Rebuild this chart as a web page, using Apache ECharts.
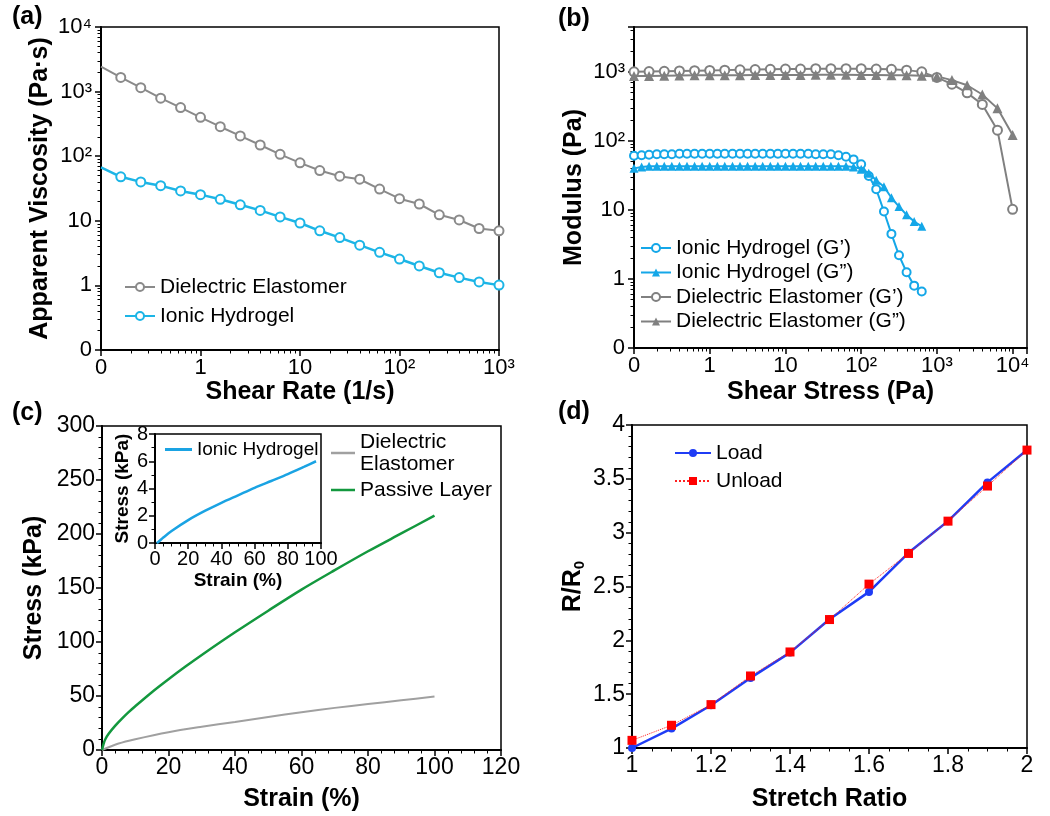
<!DOCTYPE html>
<html>
<head>
<meta charset="utf-8">
<title>Rheology and stretch figure</title>
<script src="https://cdn.jsdelivr.net/npm/echarts@6.0.0/dist/echarts.min.js"></script>
<style>
  html, body { margin: 0; padding: 0; background: #fff; }
  #main { width: 1050px; height: 816px; }
</style>
</head>
<body>
<div id="main"></div>
<script>
// (a) apparent viscosity vs shear rate; "0" on the axes stands for 0.1
var shearRate = [0.1, 0.158, 0.251, 0.398, 0.631, 1, 1.58, 2.51, 3.98, 6.31, 10,
  15.8, 25.1, 39.8, 63.1, 100, 158, 251, 398, 631, 1000];
var viscDE = [2430, 1660, 1150, 790, 565, 400, 286, 206, 149, 107, 79,
  60, 49, 44, 31, 22, 18.2, 12.4, 10.3, 7.6, 7.0];
var viscIH = [67, 48, 40, 35, 29, 25.4, 21.5, 17.7, 14.5, 11.5, 9.25,
  7.0, 5.5, 4.2, 3.25, 2.56, 2.0, 1.57, 1.32, 1.13, 1.01];

// (b) modulus vs shear stress
var stressDE = [0.1, 0.158, 0.251, 0.398, 0.631, 1, 1.58, 2.51, 3.98, 6.31, 10,
  15.8, 25.1, 39.8, 63.1, 100, 158, 251, 398, 631, 1000, 1580, 2510, 3980, 6310, 10000];
var deG1 = [1000, 1010, 1020, 1030, 1040, 1050, 1060, 1070, 1080, 1090, 1100,
  1100, 1110, 1110, 1110, 1110, 1100, 1090, 1060, 1000, 830, 664, 497, 337, 143, 10.2];
var deG2 = [870, 875, 880, 885, 890, 890, 895, 895, 900, 900, 900,
  900, 905, 905, 905, 900, 900, 895, 890, 880, 860, 760, 640, 470, 296, 122];
var stressIH = [0.1, 0.126, 0.158, 0.2, 0.251, 0.316, 0.398, 0.501, 0.631, 0.794,
  1, 1.26, 1.58, 2, 2.51, 3.16, 3.98, 5.01, 6.31, 7.94,
  10, 12.6, 15.8, 20, 25.1, 31.6, 39.8, 50.1, 63.1, 79.4,
  100, 126, 158, 200, 251, 316, 398, 501, 631];
var ihG1 = [61, 62, 63, 64, 64, 64, 65, 65, 65, 65,
  65, 65, 65, 65, 65, 65, 65, 65, 65, 65,
  65, 65, 65, 65, 64, 64, 64, 62, 59, 54,
  46, 31, 20, 9.5, 4.5, 2.2, 1.25, 0.8, 0.66];
var ihG2 = [40, 42, 43, 43, 43, 43, 43, 43, 43, 43,
  43, 43, 43, 43, 43, 43, 43, 43, 43, 43,
  43, 43, 43, 43, 43, 43, 43, 43, 43, 42,
  39, 34, 27, 21.7, 15, 11.2, 8.5, 6.8, 5.8];

// (c) stress-strain
var strainMain = [0, 0.5, 1, 2, 4, 6, 8, 10, 15, 20, 25, 30, 40, 50, 60, 70, 80, 90, 100];
var passiveLayer = [0, 6, 10, 15, 22.5, 29, 35, 40.5, 53.5, 65.5, 77, 88, 109, 129, 148.5, 166.5, 184, 200.5, 217];
var strainDE = [0, 5, 10, 20, 30, 40, 50, 60, 70, 80, 90, 100];
var dielectricDE = [0, 6, 10, 16.5, 21.5, 26, 30.5, 35, 39, 42.5, 46, 49.5];
var strainIH = [1, 2, 5, 10, 20, 30, 40, 50, 60, 70, 80, 90, 97];
var hydrogelIH = [0, 0.08, 0.4, 0.88, 1.68, 2.35, 2.95, 3.5, 4.05, 4.55, 5.05, 5.6, 6.0];

// (d) R/R0 vs stretch ratio
var stretch = [1, 1.1, 1.2, 1.3, 1.4, 1.5, 1.6, 1.7, 1.8, 1.9, 2];
var loadR = [1.0, 1.18, 1.397, 1.651, 1.886, 2.196, 2.45, 2.813, 3.107, 3.467, 3.767];
var unloadR = [1.071, 1.211, 1.403, 1.669, 1.892, 2.193, 2.522, 2.807, 3.107, 3.433, 3.767];

// labels for the log axes, from 0.1 ("0") to 10^4
var logTickLabels = ['0', '1', '10', '10²', '10³', '10⁴'];

var FONT = '"Liberation Sans", Arial, sans-serif';

// minor tick spots (2..9 in every decade), in log10 units for an overlay axis
var minorLog = [];
for (var k = -1; k < 4; k++) {
  for (var d = 2; d < 10; d++) minorLog.push(k + Math.log10(d));
}

function logLabel(v) {
  var l = Math.log10(v);
  var e = Math.round(l);
  if (Math.abs(l - e) > 1e-6) return '';
  return logTickLabels[e + 1] || '';
}

function pairs(xs, ys, skipFirstSymbol) {
  return xs.map(function (x, i) {
    if (i === 0 && skipFirstSymbol) return { value: [x, ys[i]], symbol: 'none' };
    return [x, ys[i]];
  });
}

var axisLineStyle = { onZero: false, lineStyle: { color: '#000', width: 2 } };
var labelStyle = function (size) {
  return { color: '#000', fontSize: size, fontFamily: FONT };
};
var nameStyle = function (size) {
  return { color: '#000', fontSize: size, fontWeight: 'bold', fontFamily: FONT };
};

function logAxis(grid, min, max, name, gap, isY) {
  var ax = {
    type: 'log', gridIndex: grid, min: min, max: max, logBase: 10, interval: 1,
    name: name, nameLocation: 'middle', nameGap: gap, nameTextStyle: nameStyle(25),
    axisLine: axisLineStyle,
    axisTick: { show: true, length: 6, lineStyle: { color: '#000', width: 1.5 } },
    axisLabel: Object.assign(labelStyle(22), { formatter: logLabel, margin: isY ? 9 : 7, showMaxLabel: true, showMinLabel: true }),
    splitLine: { show: false }
  };
  if (isY) ax.nameRotate = 90;
  return ax;
}
function minorLogAxis(grid, min, max, pos) {
  return {
    type: 'value', gridIndex: grid, min: Math.log10(min), max: Math.log10(max), position: pos,
    axisLine: { show: false, onZero: false },
    axisTick: { show: true, length: 3.5, customValues: minorLog, lineStyle: { color: '#000', width: 1 } },
    axisLabel: { show: false },
    splitLine: { show: false }
  };
}
function valAxis(grid, min, max, interval, name, gap, isY, fs, minorSplit, extra) {
  var ax = {
    type: 'value', gridIndex: grid, min: min, max: max, interval: interval,
    name: name, nameLocation: 'middle', nameGap: gap, nameTextStyle: nameStyle(fs + 2),
    axisLine: axisLineStyle,
    axisTick: { show: true, length: 6, lineStyle: { color: '#000', width: 1.5 } },
    minorTick: { show: true, splitNumber: minorSplit, length: 3.5, lineStyle: { color: '#000', width: 1 } },
    axisLabel: Object.assign(labelStyle(fs), { margin: isY ? 7 : 6 }),
    splitLine: { show: false }
  };
  if (isY) ax.nameRotate = 90;
  return Object.assign(ax, extra || {});
}

var gridStyle = { show: true, borderColor: '#000', borderWidth: 1.5, backgroundColor: 'transparent' };
var legendText = { fontSize: 21, color: '#000', fontFamily: FONT, lineHeight: 22 };

var option = {
  animation: false,
  backgroundColor: '#fff',
  textStyle: { fontFamily: FONT },
  title: [
    { text: '(a)', left: 12, top: 5, padding: 0, textStyle: nameStyle(25) },
    { text: '(b)', left: 558, top: 7, padding: 0, textStyle: nameStyle(25) },
    { text: '(c)', left: 12, top: 401, padding: 0, textStyle: nameStyle(25) },
    { text: '(d)', left: 558, top: 400, padding: 0, textStyle: nameStyle(25) }
  ],
  grid: [
    Object.assign({ left: 101, top: 27, width: 398, height: 323 }, gridStyle),
    Object.assign({ left: 634, top: 27, width: 393, height: 321 }, gridStyle),
    Object.assign({ left: 102, top: 426, width: 399, height: 324 }, gridStyle),
    Object.assign({ left: 155, top: 434, width: 166, height: 109, z: 5 }, gridStyle),
    Object.assign({ left: 632, top: 425, width: 395, height: 323 }, gridStyle)
  ],
  xAxis: [
    logAxis(0, 0.1, 1000, 'Shear Rate (1/s)', 30, false),
    minorLogAxis(0, 0.1, 1000, 'bottom'),
    logAxis(1, 0.1, 15490, 'Shear Stress (Pa)', 32, false),
    minorLogAxis(1, 0.1, 15490, 'bottom'),
    valAxis(2, 0, 120, 20, 'Strain (%)', 37, false, 23, 5),
    valAxis(3, 0, 100, 20, 'Strain (%)', 28, false, 20, 4, { nameTextStyle: nameStyle(19) }),
    valAxis(4, 1, 2, 0.2, 'Stretch Ratio', 39, false, 23, 4)
  ],
  yAxis: [
    logAxis(0, 0.1, 10000, 'Apparent Viscosity (Pa·s)', 48, true),
    minorLogAxis(0, 0.1, 10000, 'left'),
    logAxis(1, 0.1, 4467, 'Modulus (Pa)', 47, true),
    minorLogAxis(1, 0.1, 4467, 'left'),
    valAxis(2, 0, 300, 50, 'Stress (kPa)', 55, true, 23, 5),
    valAxis(3, 0, 8, 2, 'Stress (kPa)', 23, true, 20, 2, { nameTextStyle: nameStyle(19) }),
    valAxis(4, 1, 4, 0.5, '{m|R/R}{s|0}', 45, true, 23, 5, {
      nameTextStyle: {
        color: '#000', fontFamily: FONT, fontWeight: 'bold', fontSize: 25,
        rich: {
          m: { fontSize: 25, fontWeight: 'bold', fontFamily: FONT, color: '#000' },
          s: { fontSize: 15, fontWeight: 'bold', fontFamily: FONT, color: '#000', padding: [12, 0, 0, 0] }
        }
      }
    })
  ],
  legend: [
    {
      left: 124, top: 276, padding: 0, orient: 'vertical', itemWidth: 30, itemHeight: 10, itemGap: 7,
      textStyle: legendText,
      data: ['Dielectric Elastomer', 'Ionic Hydrogel']
    },
    {
      left: 640, top: 237, padding: 0, orient: 'vertical', itemWidth: 30, itemHeight: 10, itemGap: 2.5,
      textStyle: legendText,
      data: ['Ionic Hydrogel (G’)', 'Ionic Hydrogel (G”)', 'Dielectric Elastomer (G’)', 'Dielectric Elastomer (G”)']
    },
    {
      left: 331, top: 431, padding: 0, orient: 'vertical', itemWidth: 24, itemHeight: 2.5, itemGap: 4,
      icon: 'rect', textStyle: legendText,
      data: ['Dielectric\nElastomer', 'Passive Layer']
    },
    {
      left: 165, top: 440, padding: 0, orient: 'vertical', itemWidth: 27, itemHeight: 3, z: 10,
      icon: 'rect', textStyle: { fontSize: 19, color: '#000', fontFamily: FONT },
      data: ['Ionic Hydrogel ']
    },
    {
      left: 674, top: 442, padding: 0, orient: 'vertical', itemWidth: 36, itemHeight: 10, itemGap: 6,
      textStyle: legendText,
      data: ['Load', 'Unload']
    }
  ],
  series: [
    // (a)
    {
      name: 'Dielectric Elastomer', type: 'line', xAxisIndex: 0, yAxisIndex: 0,
      data: pairs(shearRate, viscDE, true), symbol: 'emptyCircle', symbolSize: 9,
      lineStyle: { color: '#8a8a8a', width: 2 }, itemStyle: { color: '#8a8a8a', borderWidth: 1.5 }
    },
    {
      name: 'Ionic Hydrogel', type: 'line', xAxisIndex: 0, yAxisIndex: 0,
      data: pairs(shearRate, viscIH, true), symbol: 'emptyCircle', symbolSize: 9,
      lineStyle: { color: '#1cb5e6', width: 2.5 }, itemStyle: { color: '#1cb5e6', borderWidth: 1.5 }
    },
    // (b)
    {
      name: 'Ionic Hydrogel (G’)', type: 'line', xAxisIndex: 2, yAxisIndex: 2,
      data: pairs(stressIH, ihG1), symbol: 'emptyCircle', symbolSize: 8,
      lineStyle: { color: '#14a7e8', width: 2 }, itemStyle: { color: '#14a7e8', borderWidth: 1.5 }
    },
    {
      name: 'Ionic Hydrogel (G”)', type: 'line', xAxisIndex: 2, yAxisIndex: 2,
      data: pairs(stressIH, ihG2), symbol: 'triangle', symbolSize: 9,
      lineStyle: { color: '#14a7e8', width: 2 }, itemStyle: { color: '#14a7e8' }
    },
    {
      name: 'Dielectric Elastomer (G’)', type: 'line', xAxisIndex: 2, yAxisIndex: 2,
      data: pairs(stressDE, deG1), symbol: 'emptyCircle', symbolSize: 9,
      lineStyle: { color: '#808080', width: 2 }, itemStyle: { color: '#808080', borderWidth: 1.5 }
    },
    {
      name: 'Dielectric Elastomer (G”)', type: 'line', xAxisIndex: 2, yAxisIndex: 2,
      data: pairs(stressDE, deG2), symbol: 'triangle', symbolSize: 10,
      lineStyle: { color: '#808080', width: 2 }, itemStyle: { color: '#808080' }
    },
    // (c)
    {
      name: 'Dielectric\nElastomer', type: 'line', xAxisIndex: 4, yAxisIndex: 4,
      data: pairs(strainDE, dielectricDE), showSymbol: false, smooth: 0.3,
      lineStyle: { color: '#a0a0a0', width: 2 }, itemStyle: { color: '#a0a0a0' }
    },
    {
      name: 'Passive Layer', type: 'line', xAxisIndex: 4, yAxisIndex: 4,
      data: pairs(strainMain, passiveLayer), showSymbol: false, smooth: 0.3,
      lineStyle: { color: '#13983e', width: 2.5 }, itemStyle: { color: '#13983e' }
    },
    {
      name: 'Ionic Hydrogel ', type: 'line', xAxisIndex: 5, yAxisIndex: 5, z: 6,
      data: pairs(strainIH, hydrogelIH), showSymbol: false, smooth: 0.3,
      lineStyle: { color: '#1aa3e3', width: 2.5 }, itemStyle: { color: '#1aa3e3' }
    },
    // (d)
    {
      name: 'Load', type: 'line', xAxisIndex: 6, yAxisIndex: 6,
      data: pairs(stretch, loadR), symbol: 'circle', symbolSize: 8,
      lineStyle: { color: '#1f3cf5', width: 2.5 }, itemStyle: { color: '#1f3cf5' }
    },
    {
      name: 'Unload', type: 'line', xAxisIndex: 6, yAxisIndex: 6,
      data: pairs(stretch, unloadR), symbol: 'rect', symbolSize: 9,
      lineStyle: { color: '#ff2020', width: 1, type: 'dotted' }, itemStyle: { color: '#ff0000' }
    }
  ]
};

var chart = echarts.init(document.getElementById('main'), null, { renderer: 'canvas' });
chart.setOption(option);
</script>
</body>
</html>
